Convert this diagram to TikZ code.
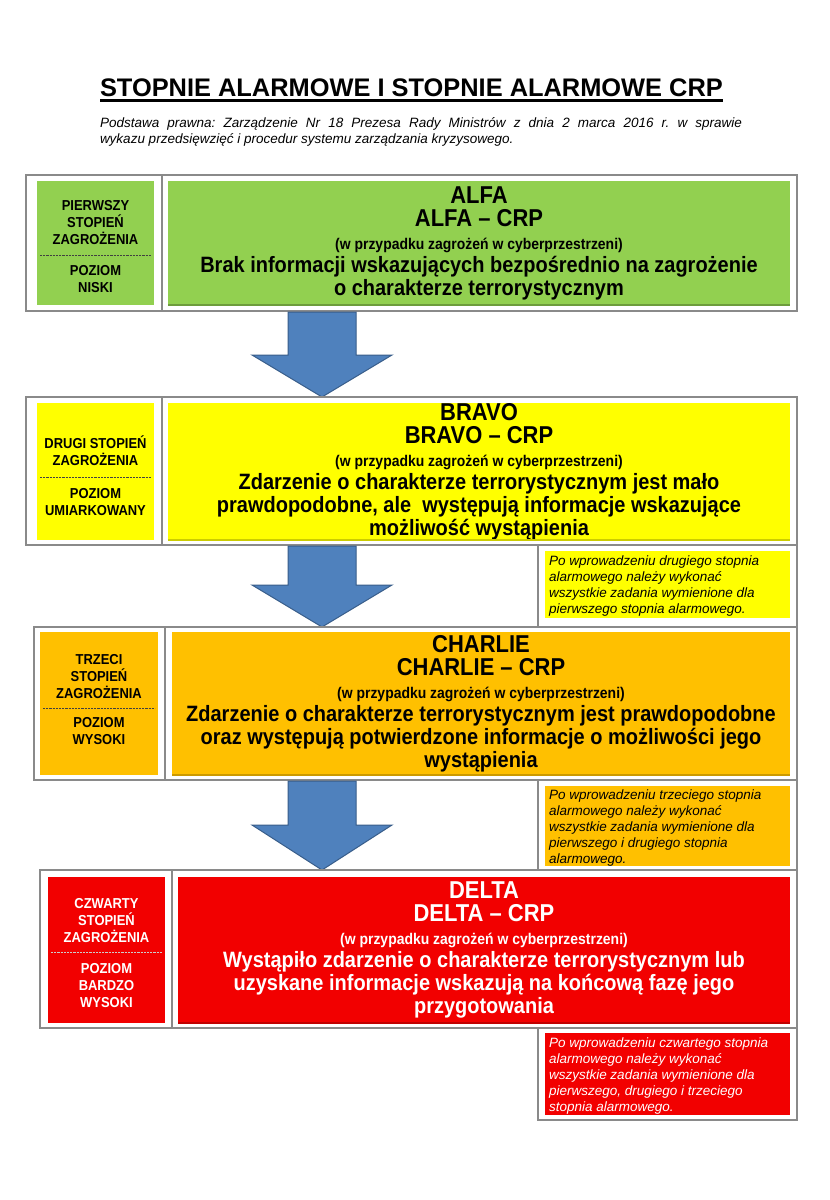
\documentclass[tikz,border=0pt]{standalone}
\usepackage{fontspec}
\setmainfont{Liberation Sans}
\newfontfamily\narrowf[FakeStretch=0.9]{Liberation Sans}
\usetikzlibrary{calc}
\frenchspacing
\definecolor{cgreen}{HTML}{92D050}
\definecolor{cyellow}{HTML}{FFFF00}
\definecolor{corange}{HTML}{FFC000}
\definecolor{cred}{HTML}{F20000}
\definecolor{arrfill}{HTML}{4F81BD}
\definecolor{arrdraw}{HTML}{385D8A}
\definecolor{framegray}{HTML}{8A8A8A}
\newcommand\titlef{\fontsize{25.4}{28}\selectfont\bfseries}
\newcommand\subf{\fontsize{13.5}{16}\selectfont\itshape}
\newcommand\hdf{\narrowf\fontsize{24.4}{23}\selectfont\bfseries}
\newcommand\smf{\narrowf\fontsize{15.5}{23}\selectfont\bfseries}
\newcommand\descf{\narrowf\fontsize{22.2}{23}\selectfont\bfseries}
\newcommand\lblf{\narrowf\fontsize{14.4}{17}\selectfont\bfseries}
\newcommand\notef{\fontsize{13.5}{16}\selectfont\itshape}
\newcommand\blockarr[4]{%
  \draw[blockarrow] ({#1-34},#2) -- ({#1+34},#2) -- ({#1+34},#3) -- ({#1+70},#3)
    -- (#1,#4) -- ({#1-70},#3) -- ({#1-34},#3) -- cycle;}
\tikzset{
  every node/.style={inner sep=0pt, outer sep=0pt},
  framebox/.style={draw=framegray, line width=1.3pt},
  mainbox/.style={align=center, font=\descf},
  lblbox/.style={},
  lbltext/.style={align=center, font=\lblf},
  notebox/.style={},
  notetext/.style={align=left, font=\notef, anchor=west},
  sepline/.style={draw=black!75, line width=0.9pt, dash pattern=on 2.2pt off 1pt},
  blockarrow/.style={fill=arrfill, draw=arrdraw, line width=1pt, line join=miter},
  shade/.style={line width=1.6pt},
}
\begin{document}
\begin{tikzpicture}[x=1pt,y=-1pt]
\useasboundingbox[fill=white] (0,0) rectangle (830,1200);

% title
\node[anchor=base west, font=\titlef] (title) at (100,96) {STOPNIE ALARMOWE I STOPNIE ALARMOWE CRP};
\draw[line width=2.2pt] (title.base west) ++(0,4.5) coordinate (ul1) -- (ul1 -| title.base east);
\node[anchor=north west, font=\subf, align=left] (sub) at (100,117.5)
  {\makebox[642pt][s]{Podstawa prawna: Zarządzenie Nr 18 Prezesa Rady Ministrów z dnia 2 marca 2016 r. w sprawie}\\
   wykazu przedsięwzięć i procedur systemu zarządzania kryzysowego.};

% ---------- row 1 ----------
\draw[framebox] (26,175) rectangle (797,311);
\draw[framebox] (162,175) -- (162,311);
\node[lblbox, fill=cgreen, minimum width=117pt, minimum height=124pt] (l1) at (95.5,243) {};
\node[mainbox, fill=cgreen, minimum width=622pt, minimum height=124pt] (m1) at (479,243)
 {{\hdf ALFA}\\{\hdf ALFA – CRP}\\{\smf (w przypadku zagrożeń w cyberprzestrzeni)}\\
  Brak informacji wskazujących bezpośrednio na zagrożenie\\o charakterze terrorystycznym};
\draw[shade, draw=cgreen!75!black] (m1.south west) -- (m1.south east);
\coordinate (s1) at (95.5,255);
\draw[sepline] ([xshift=3pt]l1.west |- s1) -- ([xshift=-3pt]l1.east |- s1);
\node[lbltext, anchor=south] (l1a) at ($(s1)+(0,-10)$) {PIERWSZY\\STOPIEŃ\\ZAGROŻENIA};
\node[lbltext, anchor=north] (l1b) at ($(s1)+(0,10)$) {POZIOM\\NISKI};

\blockarr{322}{312}{355}{397}

% ---------- row 2 ----------
\draw[framebox] (26,397) rectangle (797,545);
\draw[framebox] (162,397) -- (162,545);
\node[lblbox, fill=cyellow, minimum width=117pt, minimum height=137pt] (l2) at (95.5,471.5) {};
\node[mainbox, fill=cyellow, minimum width=622pt, minimum height=137pt] (m2) at (479,471.5)
 {{\hdf BRAVO}\\{\hdf BRAVO – CRP}\\{\smf (w przypadku zagrożeń w cyberprzestrzeni)}\\
  Zdarzenie o charakterze terrorystycznym jest mało\\
  prawdopodobne, ale\ \ występują informacje wskazujące\\możliwość wystąpienia};
\draw[shade, draw=cyellow!80!black] (m2.south west) -- (m2.south east);
\coordinate (s2) at (95.5,477);
\draw[sepline] ([xshift=3pt]l2.west |- s2) -- ([xshift=-3pt]l2.east |- s2);
\node[lbltext, anchor=south] (l2a) at ($(s2)+(0,-11)$) {DRUGI STOPIEŃ\\ZAGROŻENIA};
\node[lbltext, anchor=north] (l2b) at ($(s2)+(0,11)$) {POZIOM\\UMIARKOWANY};

% note 2
\draw[framebox] (538,545) rectangle (797,627);
\node[notebox, fill=cyellow, minimum width=245pt, minimum height=67pt] (n2) at (667.5,584.5) {};
\node[notetext] (n2t) at (549,586) {Po wprowadzeniu drugiego stopnia\\alarmowego należy wykonać\\wszystkie zadania wymienione dla\\pierwszego stopnia alarmowego.};

\blockarr{322}{546}{585}{627}

% ---------- row 3 ----------
\draw[framebox] (34,627) rectangle (797,780);
\draw[framebox] (165,627) -- (165,780);
\node[lblbox, fill=corange, minimum width=118pt, minimum height=143pt] (l3) at (99,703.5) {};
\node[mainbox, fill=corange, minimum width=618pt, minimum height=143pt] (m3) at (481,703.5)
 {{\hdf CHARLIE}\\{\hdf CHARLIE – CRP}\\{\smf (w przypadku zagrożeń w cyberprzestrzeni)}\\
  Zdarzenie o charakterze terrorystycznym jest prawdopodobne\\
  oraz występują potwierdzone informacje o możliwości jego\\wystąpienia};
\draw[shade, draw=corange!80!black] (m3.south west) -- (m3.south east);
\coordinate (s3) at (99,708);
\draw[sepline] ([xshift=3pt]l3.west |- s3) -- ([xshift=-3pt]l3.east |- s3);
\node[lbltext, anchor=south] (l3a) at ($(s3)+(0,-9.5)$) {TRZECI\\STOPIEŃ\\ZAGROŻENIA};
\node[lbltext, anchor=north] (l3b) at ($(s3)+(0,9.5)$) {POZIOM\\WYSOKI};

% note 3
\draw[framebox] (538,780) rectangle (797,870);
\node[notebox, fill=corange, minimum width=245pt, minimum height=80pt] (n3) at (667.5,826) {};
\node[notetext] (n3t) at (549,828) {Po wprowadzeniu trzeciego stopnia\\alarmowego należy wykonać\\wszystkie zadania wymienione dla\\pierwszego i drugiego stopnia\\alarmowego.};

\blockarr{322}{781}{825}{870}

% ---------- row 4 ----------
\draw[framebox] (40,870) rectangle (797,1028);
\draw[framebox] (172,870) -- (172,1028);
\node[lblbox, fill=cred, minimum width=117pt, minimum height=146pt] (l4) at (106.5,950) {};
\node[mainbox, fill=cred, text=white, minimum width=612pt, minimum height=146pt] (m4) at (484,950)
 {{\hdf DELTA}\\{\hdf DELTA – CRP}\\{\smf (w przypadku zagrożeń w cyberprzestrzeni)}\\
  Wystąpiło zdarzenie o charakterze terrorystycznym lub\\
  uzyskane informacje wskazują na końcową fazę jego\\przygotowania};
\draw[shade, draw=cred!80!black] (m4.south west) -- (m4.south east);
\coordinate (s4) at (106.5,952);
\draw[sepline, draw=white!80!black] ([xshift=3pt]l4.west |- s4) -- ([xshift=-3pt]l4.east |- s4);
\node[lbltext, text=white, anchor=south] (l4a) at ($(s4)+(0,-9.5)$) {CZWARTY\\STOPIEŃ\\ZAGROŻENIA};
\node[lbltext, text=white, anchor=north] (l4b) at ($(s4)+(0,11)$) {POZIOM\\BARDZO\\WYSOKI};

% note 4
\draw[framebox] (538,1028) rectangle (797,1120);
\node[notebox, fill=cred, minimum width=245pt, minimum height=82pt] (n4) at (667.5,1074) {};
\node[notetext, text=white] (n4t) at (549,1076) {Po wprowadzeniu czwartego stopnia\\alarmowego należy wykonać\\wszystkie zadania wymienione dla\\pierwszego, drugiego i trzeciego\\stopnia alarmowego.};
\end{tikzpicture}
\end{document}
